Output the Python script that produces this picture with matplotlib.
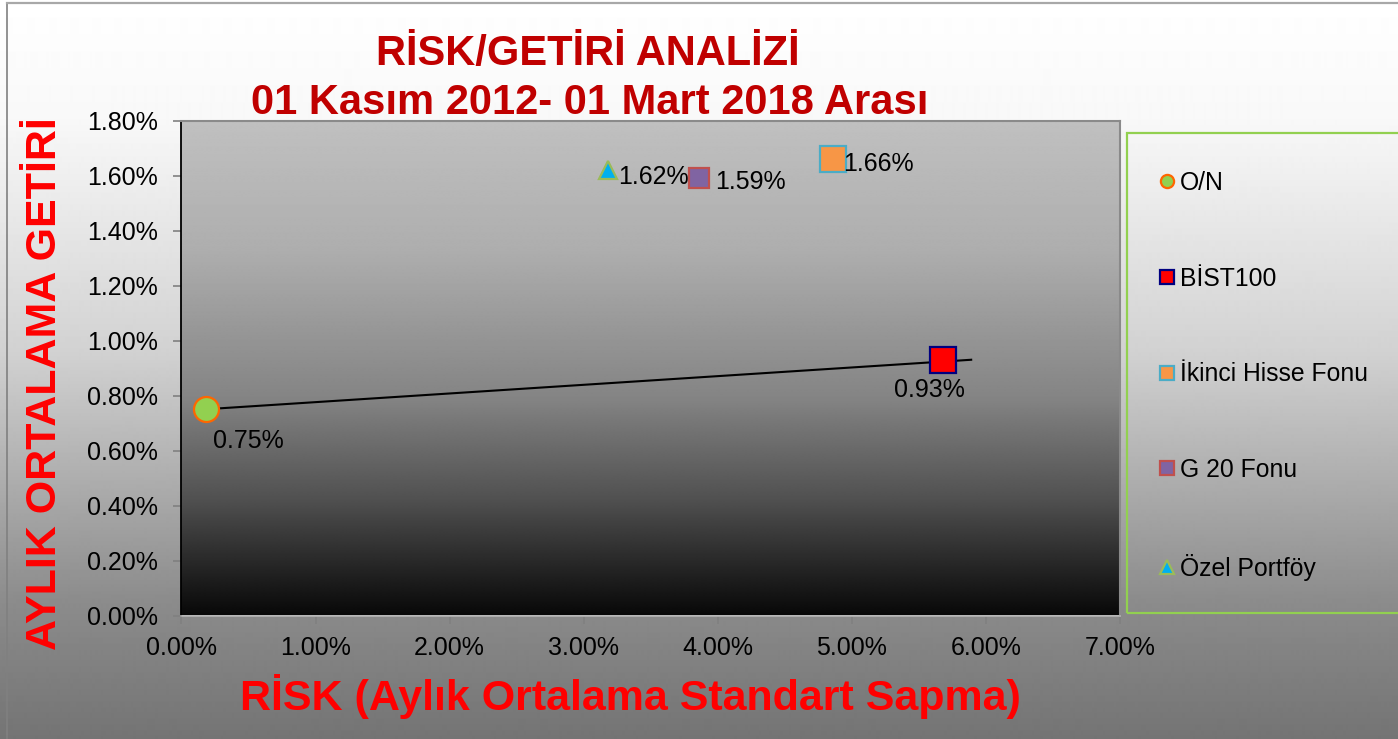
import numpy as np
import matplotlib
matplotlib.use("Agg")
import matplotlib.pyplot as plt
from matplotlib.lines import Line2D
from matplotlib.patches import Rectangle
from matplotlib.ticker import FuncFormatter

plt.rcParams['font.family'] = ['Liberation Sans', 'DejaVu Sans']

# ---- data ----
names = ["O/N", "BİST100", "İkinci Hisse Fonu", "G 20 Fonu", "Özel Portföy"]
risk = [0.0018, 0.0568, 0.0486, 0.0386, 0.0318]
ret = [0.0075, 0.0093, 0.0166, 0.0159, 0.0162]
line_x = [0.0018, 0.0589]
line_y = [0.0075, 0.0093]
x_ticks = [0.00, 0.01, 0.02, 0.03, 0.04, 0.05, 0.06, 0.07]
y_ticks = [0.000, 0.002, 0.004, 0.006, 0.008, 0.010, 0.012, 0.014, 0.016, 0.018]

# ---- styles ----
markers = ['o', 's', 's', 's', '^']
msizes = [18, 19, 19, 14, 13]
faces = ['#92d050', '#ff0000', '#f79646', '#8064a2', '#00b0f0']
edges = ['#ff6600', '#000080', '#4bacc6', '#c0504d', '#9bbb59']
lbl_off = [(5.4, -27.9, 'left'), (-10.1, -26.7, 'center'), (7.4, -8.4, 'left'),
           (11.9, -7.9, 'left'), (7.6, -10.1, 'left')]

W, H = 1398, 739
fig = plt.figure(figsize=(W / 100, H / 100), dpi=100)

# figure background gradient
bg = fig.add_axes([0, 0, 1, 1], zorder=-10)
ypix = np.arange(H)
gv = np.interp(ypix, [0, 120, 350, 600, 739], [255, 248, 210, 140, 116]) / 255.0
img = np.repeat(gv[:, None], 2, axis=1)
bg.imshow(img, cmap='gray', vmin=0, vmax=1, aspect='auto', extent=[0, 1, 0, 1],
          interpolation='bilinear')
bg.set_axis_off()

# frame lines of the chart object
fig.add_artist(Line2D([7 / W, 7 / W], [0, 1 - 3 / H], transform=fig.transFigure,
                      color='#808080', lw=1.2))
fig.add_artist(Line2D([7 / W, 1], [1 - 3 / H, 1 - 3 / H], transform=fig.transFigure,
                      color='#a8a8a8', lw=1.6))

# main axes
L, R, T, B = 181.5, 1120, 120.5, 615.5
ax = fig.add_axes([L / W, 1 - B / H, (R - L) / W, (B - T) / H])
ax.set_xlim(0, 0.07)
ax.set_ylim(0, 0.018)

pv = np.interp(np.arange(500), [0, 130, 280, 380, 460, 500], [192, 174, 132, 82, 32, 8]) / 255.0
ax.imshow(np.repeat(pv[:, None], 2, axis=1), cmap='gray', vmin=0, vmax=1, aspect='auto',
          extent=[0, 1, 0, 1], transform=ax.transAxes, interpolation='bilinear', zorder=0)

ax.plot(line_x, line_y, color='black', lw=1.5, zorder=2)

for i in range(len(names)):
    ax.plot(risk[i], ret[i], linestyle='none', marker=markers[i], ms=msizes[i],
            mfc=faces[i], mec=edges[i], mew=1.6, zorder=3, label=names[i])
    dx, dy, ha = lbl_off[i]
    ax.annotate(f"{ret[i] * 100:.2f}%", (risk[i], ret[i]), xytext=(dx, dy),
                textcoords='offset points', ha=ha, va='baseline', fontsize=18,
                color='black', zorder=4)

ax.set_xticks(x_ticks)
ax.set_yticks(y_ticks)
pct = FuncFormatter(lambda v, p: f"{v * 100:.2f}%")
ax.xaxis.set_major_formatter(pct)
ax.yaxis.set_major_formatter(pct)
ax.tick_params(axis='both', direction='out', length=6, width=1.2, color='#808080',
               labelsize=18, labelcolor='black', pad=9)
ax.tick_params(axis='y', pad=11)
for s in ['top', 'right']:
    ax.spines[s].set_color('#8a8a8a')
    ax.spines[s].set_linewidth(1.5)
ax.spines['left'].set_color('black')
ax.spines['left'].set_linewidth(1.3)
ax.spines['bottom'].set_color('#b0b0b0')
ax.spines['bottom'].set_linewidth(1.3)

# titles and axis labels
fig.text(587.5 / W, 1 - 65 / H, "RİSK/GETİRİ ANALİZİ", ha='center', va='baseline',
         fontsize=30, fontweight='bold', color='#c00000')
fig.text(590 / W, 1 - 114 / H, "01 Kasım 2012- 01 Mart 2018 Arası", ha='center',
         va='baseline', fontsize=30, fontweight='bold', color='#c00000')
fig.text(45 / W, 1 - 384 / H, "AYLIK ORTALAMA GETİRİ", rotation=90, ha='center',
         va='center', fontsize=31, fontweight='bold', color='#ff0000')
fig.text(630 / W, 1 - 710 / H, "RİSK (Aylık Ortalama Standart Sapma)", ha='center',
         va='baseline', fontsize=31, fontweight='bold', color='#ff0000')

# legend
fig.add_artist(Rectangle((1127 / W, 1 - 613 / H), 0.3, (613 - 133) / H,
                         transform=fig.transFigure, fill=False, edgecolor='#92d050',
                         lw=1.6))
handles = [Line2D([], [], linestyle='none', marker=markers[i], ms=9.5, mfc=faces[i],
                  mec=edges[i], mew=1.6) for i in range(len(names))]
fig.legend(handles, names, loc='upper left', bbox_to_anchor=(1158 / W, 1 - 171 / H),
           frameon=False, fontsize=17.8, borderpad=0, borderaxespad=0,
           handlelength=0.7, handletextpad=0.2, labelspacing=2.9)

fig.savefig("out.png", dpi=100)
